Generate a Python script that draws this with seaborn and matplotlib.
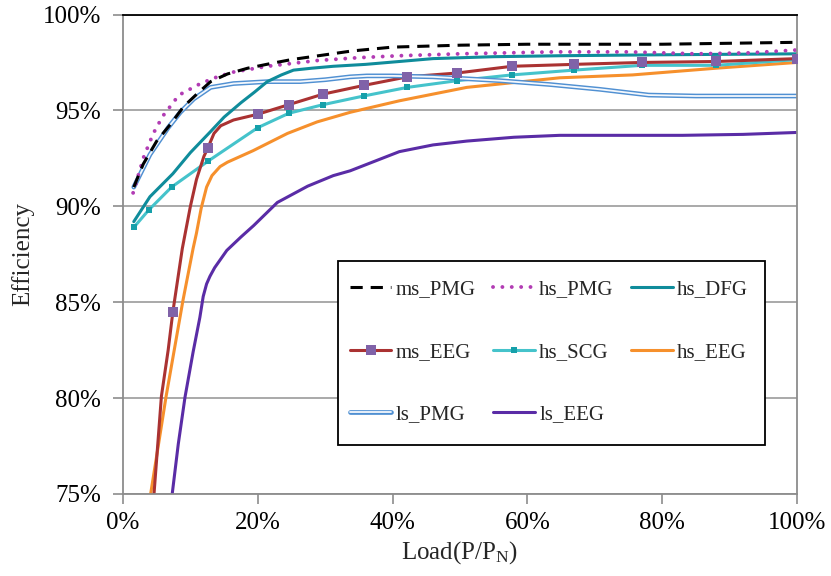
import matplotlib
matplotlib.use("Agg")
import matplotlib.pyplot as plt
from matplotlib.lines import Line2D
from matplotlib.patches import Rectangle
import seaborn as sns

# ---------------- data (load %, efficiency %) ----------------
ms_pmg_x = [1.6, 3, 5, 7.1, 9, 11.1, 13, 15.5, 18.5, 22, 25, 30, 34, 40, 50, 60, 70, 80, 90, 100]
ms_pmg_y = [91.0, 92.2, 93.4, 94.3, 95.2, 95.9, 96.5, 96.9, 97.2, 97.45, 97.65, 97.9, 98.1, 98.3, 98.4, 98.45, 98.45, 98.45, 98.5, 98.55]

hs_pmg_x = [1.5, 3.1, 4.5, 5.9, 8.3, 11.5, 14, 16.4, 21.4, 28.8, 35, 41, 50, 64, 75, 85, 93, 100]
hs_pmg_y = [90.7, 92.6, 93.8, 94.7, 95.8, 96.4, 96.75, 97.0, 97.3, 97.6, 97.75, 97.85, 97.95, 98.05, 98.05, 97.95, 98.0, 98.15]

hs_dfg_x = [1.6, 4, 7.4, 10, 13, 15, 17.5, 19.5, 21.4, 23.5, 25.3, 28, 31.2, 36, 46, 55, 64.8, 80, 100]
hs_dfg_y = [89.2, 90.5, 91.7, 92.8, 93.9, 94.65, 95.4, 95.95, 96.5, 96.85, 97.1, 97.2, 97.3, 97.4, 97.7, 97.8, 97.85, 97.9, 97.95]

ls_pmg_x = [1.6, 4, 6.7, 8.5, 10.5, 13, 16.4, 21.4, 26.3, 30, 33.7, 36.2, 40, 46, 55.9, 63.3, 70.7, 78, 85, 100]
ls_pmg_y = [91.0, 92.7, 94.1, 94.9, 95.6, 96.2, 96.4, 96.5, 96.5, 96.6, 96.75, 96.8, 96.8, 96.75, 96.55, 96.35, 96.1, 95.8, 95.75, 95.75]

ms_eeg_x = [3.8, 4.6, 5.7, 6.7, 7.4, 8.8, 10.0, 10.9, 12.0, 12.6, 13.5, 14.5, 16.4, 20.0, 24.6, 29.7, 35.7, 42.2, 49.6, 57.7, 66.9, 77, 88, 100]
ms_eeg_y = [71.5, 75.0, 80.1, 82.5, 84.5, 87.8, 90.0, 91.4, 92.6, 93.05, 93.8, 94.2, 94.5, 94.8, 95.3, 95.85, 96.3, 96.75, 96.95, 97.3, 97.4, 97.5, 97.55, 97.7]
ms_eeg_mx = [7.4, 12.6, 20.0, 24.6, 29.7, 35.7, 42.2, 49.6, 57.7, 66.9, 77, 88, 100]
ms_eeg_my = [84.5, 93.05, 94.8, 95.3, 95.85, 96.3, 96.75, 96.95, 97.3, 97.4, 97.5, 97.55, 97.7]

hs_scg_x = [1.6, 3.8, 7.2, 12.6, 20, 24.6, 29.7, 35.7, 42.2, 49.6, 57.7, 66.9, 77, 88, 100]
hs_scg_y = [88.9, 89.8, 91.0, 92.35, 94.1, 94.85, 95.3, 95.75, 96.2, 96.55, 96.85, 97.1, 97.35, 97.35, 97.65]

hs_eeg_x = [4.1, 6.4, 8.9, 10.4, 10.9, 11.6, 12.4, 13.2, 14.4, 15.5, 17.4, 19.3, 24.4, 28.8, 33.7, 41, 51, 64.8, 75.6, 88, 100]
hs_eeg_y = [75.0, 80.1, 85.1, 87.8, 88.6, 89.9, 91.0, 91.6, 92.07, 92.3, 92.6, 92.9, 93.8, 94.4, 94.9, 95.5, 96.2, 96.7, 96.85, 97.2, 97.5]

ls_eeg_x = [7.3, 8.2, 9.2, 10.4, 11.4, 11.9, 12.4, 12.9, 13.6, 14.4, 15.4, 17.5, 19.4, 22.9, 27.4, 31.2, 33.7, 41, 46, 51, 58, 64.8, 75, 83, 92, 100]
ls_eeg_y = [75.0, 77.6, 80.05, 82.4, 84.2, 85.3, 85.95, 86.35, 86.8, 87.2, 87.7, 88.4, 89.0, 90.2, 91.05, 91.6, 91.85, 92.85, 93.2, 93.4, 93.6, 93.7, 93.7, 93.7, 93.75, 93.85]

series_names = ["ms_PMG", "hs_PMG", "hs_DFG", "ms_EEG", "hs_SCG", "hs_EEG", "ls_PMG", "ls_EEG"]

x_ticks = [0, 20, 40, 60, 80, 100]
x_labels = ["0%", "20%", "40%", "60%", "80%", "100%"]
y_ticks = [75, 80, 85, 90, 95, 100]
y_labels = ["75%", "80%", "85%", "90%", "95%", "100%"]

# ---------------- styling ----------------
sns.set_theme(style="white")
plt.rcParams["font.family"] = ["Liberation Serif", "DejaVu Serif"]
plt.rcParams["mathtext.fontset"] = "custom"
plt.rcParams["mathtext.rm"] = "Liberation Serif"
plt.rcParams["mathtext.it"] = "Liberation Serif:italic"

c_black = "#000000"
c_mag = "#B23CB4"
c_dfg = "#0F8C9B"
c_mseeg = "#AA3232"
c_mseeg_m = "#8062A8"
c_scg = "#45C3CB"
c_scg_m = "#16A0AA"
c_hseeg = "#F6902C"
c_lspmg = "#5090D2"
c_lseeg = "#5A2CA6"

W, H = 831, 576
fig = plt.figure(figsize=(W / 100, H / 100), dpi=100)
ax = fig.add_axes([123 / W, 1 - 494 / H, (797 - 123) / W, (494 - 14.5) / H])

lw = 2.2

def line(x, y, **kw):
    sns.lineplot(x=x, y=y, ax=ax, sort=False, estimator=None, legend=False, **kw)
    return ax.lines[-1]

# ls_EEG
line(ls_eeg_x, ls_eeg_y, color=c_lseeg, linewidth=lw)
# hs_EEG
line(hs_eeg_x, hs_eeg_y, color=c_hseeg, linewidth=lw)
# hs_SCG
line(hs_scg_x, hs_scg_y, color=c_scg, linewidth=lw)
sns.scatterplot(x=hs_scg_x, y=hs_scg_y, ax=ax, color=c_scg_m, marker="s", s=22, linewidth=0, zorder=4, legend=False)
# ms_EEG
line(ms_eeg_x, ms_eeg_y, color=c_mseeg, linewidth=lw)
sns.scatterplot(x=ms_eeg_mx, y=ms_eeg_my, ax=ax, color=c_mseeg_m, marker="s", s=48, linewidth=0, zorder=4, legend=False)
# ls_PMG (double line)
line(ls_pmg_x, ls_pmg_y, color=c_lspmg, linewidth=3.4)
line(ls_pmg_x, ls_pmg_y, color="#F4F8FD", linewidth=1.3)
# hs_DFG
line(hs_dfg_x, hs_dfg_y, color=c_dfg, linewidth=lw)
# hs_PMG dotted
lp = line(hs_pmg_x, hs_pmg_y, color=c_mag, linewidth=2.8)
lp.set_linestyle((0, (0.01, 2.4)))
lp.set_dash_capstyle("round")
# ms_PMG dashed
ld = line(ms_pmg_x, ms_pmg_y, color=c_black, linewidth=2.2)
ld.set_linestyle((0, (4.0, 2.6)))

# ---------------- axes ----------------
ax.set_xlim(0, 100)
ax.set_ylim(75, 100)
ax.set_xticks(x_ticks)
ax.set_xticklabels(x_labels)
ax.set_yticks(y_ticks)
ax.set_yticklabels(y_labels)
ax.yaxis.grid(True, color="#A3A3A3", linewidth=1.3)
ax.xaxis.grid(False)
ax.set_axisbelow(True)
for s in ["left", "bottom", "right"]:
    ax.spines[s].set_color("#8C8C8C")
    ax.spines[s].set_linewidth(1.3)
ax.spines["top"].set_color("#000000")
ax.spines["top"].set_linewidth(1.3)
ax.tick_params(axis="both", which="major", direction="out", length=7, width=1.2,
               color="#8C8C8C", labelsize=18, labelcolor="black")
ax.tick_params(axis="y", pad=9, left=True)
ax.tick_params(axis="x", pad=6, bottom=True)

ax.set_xlabel(r"Load(P/P$_\mathrm{N}$)", fontsize=18, labelpad=4)
ax.set_ylabel("Efficiency", fontsize=18, labelpad=6)

# ---------------- legend (row-wise order like the reference) ----------------
h = {
    "ms_PMG": Line2D([], [], color=c_black, linewidth=2.2, linestyle=(0, (4.0, 2.6))),
    "hs_PMG": Line2D([], [], color=c_mag, linewidth=2.8, linestyle=(0, (0.01, 2.4)), dash_capstyle="round"),
    "hs_DFG": Line2D([], [], color=c_dfg, linewidth=lw),
    "ms_EEG": Line2D([], [], color=c_mseeg, linewidth=lw, marker="s", markersize=6.5,
                     markerfacecolor=c_mseeg_m, markeredgewidth=0),
    "hs_SCG": Line2D([], [], color=c_scg, linewidth=lw, marker="s", markersize=4.5,
                     markerfacecolor=c_scg_m, markeredgewidth=0),
    "hs_EEG": Line2D([], [], color=c_hseeg, linewidth=lw),
    "ls_PMG": (Line2D([], [], color=c_lspmg, linewidth=3.4), Line2D([], [], color="#F4F8FD", linewidth=1.3)),
    "ls_EEG": Line2D([], [], color=c_lseeg, linewidth=lw),
}
ncol = 3
order = [series_names[r * ncol + c] for c in range(ncol) for r in range(3)
         if r * ncol + c < len(series_names)]

# legend frame drawn as a plain rectangle (inside the axes, below the legend)
box_l, box_r, box_t, box_b = 338, 765, 261, 445
ax.add_patch(Rectangle((box_l / W, 1 - box_b / H), (box_r - box_l) / W, (box_b - box_t) / H,
                       transform=fig.transFigure, facecolor="white", edgecolor="black",
                       linewidth=1.3, zorder=5, clip_on=False))
leg = ax.legend([h[n] for n in order], order, ncol=ncol, loc="center",
                bbox_to_anchor=((350 + 748) / 2 / W, 1 - 352 / H),
                bbox_transform=fig.transFigure, fontsize=15, frameon=False,
                handlelength=2.0, handletextpad=0.2, columnspacing=0.85,
                labelspacing=2.05, borderpad=0.0)
leg.set_zorder(6)
ax.set_xlim(0, 100)
ax.set_ylim(75, 100)

fig.savefig("out.png", dpi=100)
